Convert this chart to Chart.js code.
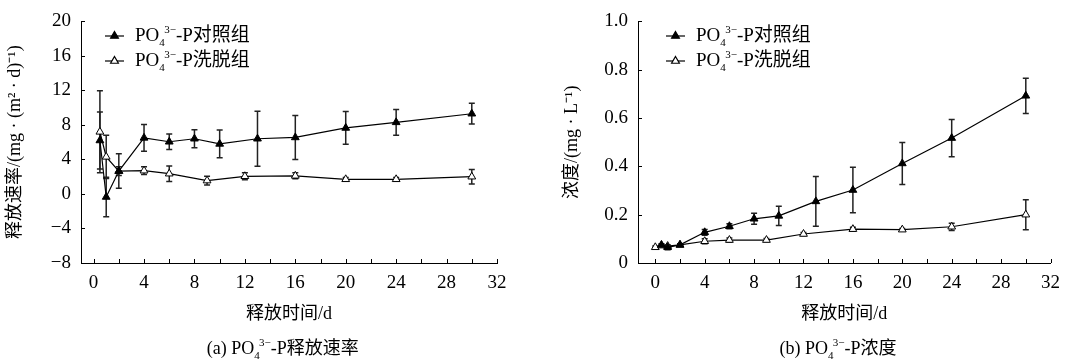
<!doctype html>
<html>
<head>
<meta charset="utf-8">
<title>PO4-P release</title>
<script src="https://cdn.jsdelivr.net/npm/chart.js@4.4.0/dist/chart.umd.min.js"></script>
<style>
body { margin: 0; background: #fff; }
#left { position: absolute; left: 0; top: 0; }
#right { position: absolute; left: 535px; top: 0; }
</style>
</head>
<body>
<canvas id="left" width="535" height="363"></canvas>
<canvas id="right" width="534" height="363"></canvas>
<script>
// (a) release rate, mg/(m2 d)
var rateDaysCtrl = [0.5, 1, 2, 4, 6, 8, 10, 13, 16, 20, 24, 30];
var rateCtrl     = [6.2, -0.35, 2.65, 6.5, 6.05, 6.4, 5.8, 6.4, 6.55, 7.65, 8.3, 9.3];
var rateCtrlErr  = [3.3, 2.3, 2.0, 1.55, 0.9, 1.05, 1.6, 3.2, 2.55, 1.9, 1.5, 1.2];
var rateDaysElu  = [0.5, 1, 2, 4, 6, 9, 12, 16, 20, 24, 30];
var rateElu      = [7.2, 4.3, 2.65, 2.7, 2.35, 1.55, 2.05, 2.1, 1.7, 1.7, 2.0];
var rateEluErr   = [4.75, 2.5, 0.5, 0.45, 0.9, 0.5, 0.4, 0.35, 0.2, 0.2, 0.85];

// (b) concentration, mg/L
var concDaysCtrl = [0.5, 1, 2, 4, 6, 8, 10, 13, 16, 20, 24, 30];
var concCtrl     = [0.075, 0.065, 0.075, 0.127, 0.152, 0.183, 0.195, 0.255, 0.302, 0.412, 0.517, 0.692];
var concCtrlErr  = [0.005, 0.01, 0.005, 0.012, 0.01, 0.023, 0.04, 0.103, 0.094, 0.087, 0.077, 0.073];
var concDaysElu  = [0, 0.5, 1, 2, 4, 6, 9, 12, 16, 20, 24, 30];
var concElu      = [0.065, 0.072, 0.07, 0.075, 0.09, 0.095, 0.095, 0.12, 0.14, 0.138, 0.15, 0.2];
var concEluErr   = [0.005, 0.005, 0.005, 0.005, 0.01, 0.008, 0.006, 0.006, 0.008, 0.005, 0.015, 0.062];

var xTicks     = [0, 2, 4, 6, 8, 10, 12, 14, 16, 18, 20, 22, 24, 26, 28, 30, 32];
var rateYTicks = [-8, -4, 0, 4, 8, 12, 16, 20];
var concYTicks = [0, 0.2, 0.4, 0.6, 0.8, 1.0];

var SERIF = "'Liberation Serif', 'Noto Sans CJK SC', serif";

function pts(xs, ys) {
	return xs.map(function (x, i) { return {x: x, y: ys[i]}; });
}

function drawRich(ctx, parts, x, y, size, align) {
	var w = 0;
	parts.forEach(function (p) {
		ctx.font = (p.s ? Math.round(size * 0.6) : size) + 'px ' + SERIF;
		p.w = ctx.measureText(p.t).width;
		w += p.w;
	});
	if (align === 'center') x -= w / 2;
	ctx.textBaseline = 'middle';
	ctx.textAlign = 'left';
	ctx.fillStyle = '#000';
	parts.forEach(function (p) {
		ctx.font = (p.s ? Math.round(size * 0.6) : size) + 'px ' + SERIF;
		var dy = p.s === 'sub' ? size * 0.38 : (p.s === 'sup' ? -size * 0.3 : 0);
		ctx.fillText(p.t, x, y + dy);
		x += (p.s === 'sub') ? p.w * 0.9 : p.w;
	});
}

function po4(label) {
	return [{t: 'PO'}, {t: '4', s: 'sub'}, {t: '3\u2212', s: 'sup'}, {t: '-P' + label}];
}

// error bars, drawn under the markers
var errorBars = {
	id: 'errorBars',
	beforeDatasetsDraw: function (chart) {
		var ctx = chart.ctx, ys = chart.scales.y;
		ctx.save();
		ctx.strokeStyle = '#222';
		ctx.lineWidth = 1.5;
		chart.data.datasets.forEach(function (ds, i) {
			var meta = chart.getDatasetMeta(i);
			meta.data.forEach(function (pt, j) {
				var v = ds.data[j].y, e = ds.errors[j];
				var top = ys.getPixelForValue(v + e), bot = ys.getPixelForValue(v - e);
				ctx.beginPath();
				ctx.moveTo(pt.x, top); ctx.lineTo(pt.x, bot);
				ctx.moveTo(pt.x - 3, top); ctx.lineTo(pt.x + 3, top);
				ctx.moveTo(pt.x - 3, bot); ctx.lineTo(pt.x + 3, bot);
				ctx.stroke();
			});
		});
		ctx.restore();
	}
};

// tick marks pointing into the plot, legend and caption
var decor = {
	id: 'decor',
	afterDraw: function (chart) {
		var ctx = chart.ctx, a = chart.chartArea;
		var xs = chart.scales.x, ys = chart.scales.y;
		var o = chart.options.plugins.decor;
		ctx.save();
		ctx.strokeStyle = '#000';
		ctx.lineWidth = 1;
		ctx.beginPath();
		xs.ticks.forEach(function (t) {
			var px = Math.round(xs.getPixelForValue(t.value)) + 0.5;
			ctx.moveTo(px, a.bottom); ctx.lineTo(px, a.bottom - 4);
		});
		ys.ticks.forEach(function (t) {
			var py = Math.round(ys.getPixelForValue(t.value)) + 0.5;
			ctx.moveTo(a.left, py); ctx.lineTo(a.left + 4, py);
		});
		ctx.stroke();

		o.legend.forEach(function (it, k) {
			var y = o.legendY + k * 25;
			ctx.strokeStyle = '#000';
			ctx.lineWidth = 1.2;
			ctx.beginPath();
			ctx.moveTo(o.legendX, y); ctx.lineTo(o.legendX + 19, y);
			ctx.stroke();
			ctx.fillStyle = it.fill;
			ctx.strokeStyle = '#000';
			Chart.helpers.drawPoint(ctx, {pointStyle: 'triangle', radius: 4.5, borderWidth: 1, rotation: 0}, o.legendX + 9.5, y);
			drawRich(ctx, po4(it.text), o.legendX + 30, y, 19, 'left');
		});

		drawRich(ctx, o.caption, (a.left + a.right) / 2 - 6, 349, 18, 'center');
		ctx.restore();
	}
};

function makeChart(id, sets, yMin, yMax, yTicks, yTitle, yFmt, xMin, pad, opts) {
	return new Chart(document.getElementById(id), {
		type: 'scatter',
		data: {
			datasets: sets.map(function (s) {
				return {
					data: pts(s.x, s.y),
					errors: s.err,
					showLine: true,
					borderColor: '#000',
					borderWidth: 1.2,
					pointStyle: 'triangle',
					pointRadius: 4.5,
					pointBorderWidth: 1,
					pointBorderColor: '#000',
					pointBackgroundColor: s.fill
				};
			})
		},
		options: {
			responsive: false,
			animation: false,
			layout: {padding: pad},
			plugins: {
				legend: {display: false},
				tooltip: {enabled: false},
				decor: opts
			},
			scales: {
				x: {
					type: 'linear',
					min: xMin,
					max: 32,
					afterBuildTicks: function (sc) { sc.ticks = xTicks.map(function (v) { return {value: v}; }); },
					afterFit: function (sc) { sc.height = 66; },
					grid: {display: false, drawTicks: false},
					border: {display: true, color: '#000', width: 1},
					ticks: {
						color: '#000',
						padding: 9,
						maxRotation: 0,
						autoSkip: false,
						font: {family: SERIF, size: 19},
						callback: function (v) { return v % 4 === 0 ? String(v) : ''; }
					},
					title: {display: true, text: '释放时间/d', color: '#000', font: {family: SERIF, size: 18}}
				},
				y: {
					min: yMin,
					max: yMax,
					afterBuildTicks: function (sc) { sc.ticks = yTicks.map(function (v) { return {value: v}; }); },
					afterFit: function (sc) { sc.width = 81; },
					grid: {display: false, drawTicks: false},
					border: {display: true, color: '#000', width: 1},
					ticks: {color: '#000', padding: 10, font: {family: SERIF, size: 19}, callback: yFmt},
					title: {display: true, text: yTitle, color: '#000', font: {family: SERIF, size: 18}}
				}
			}
		},
		plugins: [errorBars, decor]
	});
}

makeChart('left', [
		{x: rateDaysCtrl, y: rateCtrl, err: rateCtrlErr, fill: '#000'},
		{x: rateDaysElu, y: rateElu, err: rateEluErr, fill: '#fff'}
	], -8, 20, rateYTicks, '释放速率/(mg · (m² · d)⁻¹)',
	function (v) { return v < 0 ? '\u2212' + Math.abs(v) : String(v); },
	-1, {left: 0, right: 38, top: 14, bottom: 34},
	{legendX: 105, legendY: 36, legend: [{fill: '#000', text: '对照组'}, {fill: '#fff', text: '洗脱组'}],
	 caption: [{t: '(a) PO'}, {t: '4', s: 'sub'}, {t: '3\u2212', s: 'sup'}, {t: '-P释放速率'}]});

makeChart('right', [
		{x: concDaysCtrl, y: concCtrl, err: concCtrlErr, fill: '#000'},
		{x: concDaysElu, y: concElu, err: concEluErr, fill: '#fff'}
	], 0, 1, concYTicks, '浓度/(mg · L⁻¹)',
	function (v) { return v === 0 ? '0' : v.toFixed(1); },
	-1.4, {left: 22, right: 13, top: 14, bottom: 34},
	{legendX: 131, legendY: 36, legend: [{fill: '#000', text: '对照组'}, {fill: '#fff', text: '洗脱组'}],
	 caption: [{t: '(b) PO'}, {t: '4', s: 'sub'}, {t: '3\u2212', s: 'sup'}, {t: '-P浓度'}]});
</script>
</body>
</html>
